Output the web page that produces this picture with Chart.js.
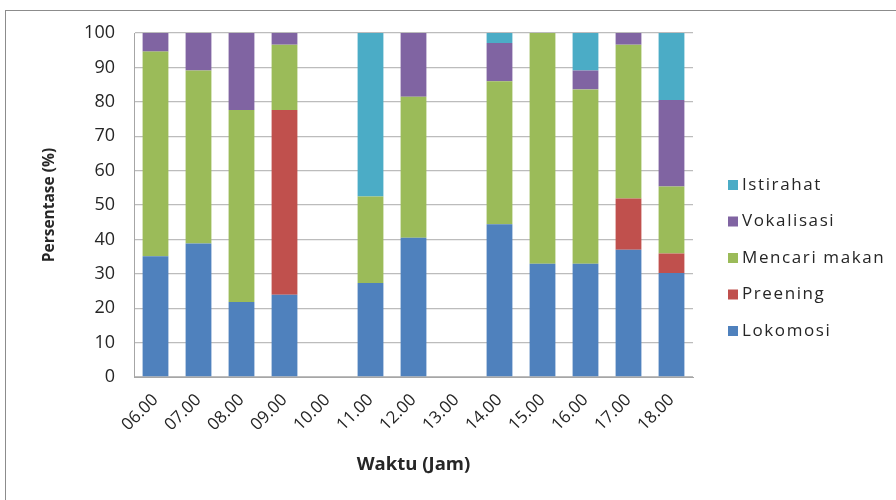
<!DOCTYPE html>
<html>
<head>
<meta charset="utf-8">
<script src="https://cdn.jsdelivr.net/npm/chart.js@4.4.1/dist/chart.umd.min.js"></script>
<style>
  body { margin: 0; background: #fff; }
  #wrap { position: relative; width: 896px; height: 500px; overflow: hidden; }
  #frame { position: absolute; left: 5px; top: 10px; width: 1000px; height: 600px; border: 1px solid #8c8c8c; }
  canvas { position: absolute; left: 0; top: 0; }
</style>
</head>
<body>
<div id="wrap">
  <div id="frame"></div>
  <canvas id="grafik" width="896" height="500"></canvas>
</div>
<script>
// Data aktivitas (persen) per jam pengamatan
const jam = ['06.00', '07.00', '08.00', '09.00', '10.00', '11.00', '12.00', '13.00', '14.00', '15.00', '16.00', '17.00', '18.00'];
const lokomosi = [35.1, 38.8, 21.8, 23.9, null, 27.3, 40.5, null, 44.4, 32.9, 32.9, 37.0, 30.2];
const preening = [0, 0, 0, 53.7, null, 0, 0, null, 0, 0, 0, 14.9, 5.7];
const mencariMakan = [59.5, 50.3, 55.8, 19.0, null, 25.2, 41.0, null, 41.6, 67.1, 50.7, 44.7, 19.5];
const vokalisasi = [5.4, 10.9, 22.4, 3.4, null, 0, 18.5, null, 11.1, 0, 5.5, 3.4, 25.1];
const istirahat = [0, 0, 0, 0, null, 47.5, 0, null, 2.9, 0, 10.9, 0, 19.5];
const yTicks = [0, 10, 20, 30, 40, 50, 60, 70, 80, 90, 100];

const fontUtama = '"Open Sans", "Noto Sans", sans-serif';

// Legenda di sisi kanan (urutan terbalik seperti Excel)
const legendaKanan = {
    id: 'legendaKanan',
    afterDraw(chart) {
        const ctx = chart.ctx;
        const area = chart.chartArea;
        const items = chart.data.datasets.slice().reverse();
        ctx.save();
        ctx.font = '17px ' + fontUtama;
        ctx.letterSpacing = '1.6px';
        ctx.textBaseline = 'middle';
        items.forEach((ds, i) => {
            const y = 185 + i * 36.5;
            ctx.fillStyle = ds.backgroundColor;
            ctx.fillRect(area.right + 35, y - 5, 10, 10);
            ctx.fillStyle = '#262626';
            ctx.fillText(ds.label, area.right + 49, y);
        });
        ctx.restore();
    }
};

new Chart(document.getElementById('grafik'), {
    type: 'bar',
    data: {
        labels: jam,
        datasets: [
            { label: 'Lokomosi', data: lokomosi, backgroundColor: '#4F81BD' },
            { label: 'Preening', data: preening, backgroundColor: '#C0504D' },
            { label: 'Mencari makan', data: mencariMakan, backgroundColor: '#9BBB59' },
            { label: 'Vokalisasi', data: vokalisasi, backgroundColor: '#8064A2' },
            { label: 'Istirahat', data: istirahat, backgroundColor: '#4BACC6' }
        ]
    },
    options: {
        responsive: false,
        animation: false,
        layout: { padding: { left: 40, top: 33, right: 203, bottom: 24 } },
        datasets: { bar: { barPercentage: 0.6, categoryPercentage: 1.0 } },
        plugins: {
            legend: { display: false },
            tooltip: { enabled: false }
        },
        scales: {
            x: {
                stacked: true,
                afterFit(scale) { scale.height = 99; },
                grid: { display: false, drawTicks: false },
                border: { display: true, color: '#a6a6a6', width: 1 },
                ticks: {
                    color: '#262626',
                    font: { family: fontUtama, size: 17 },
                    maxRotation: 45,
                    minRotation: 45,
                    padding: 13,
                    autoSkip: false
                },
                title: {
                    display: true,
                    text: 'Waktu (Jam)',
                    color: '#262626',
                    font: { family: fontUtama, size: 18.5, weight: 'bold' },
                    padding: { top: 0, bottom: 0 }
                }
            },
            y: {
                stacked: true,
                min: 0,
                max: 100,
                afterFit(scale) { scale.width = 94; },
                afterBuildTicks(scale) { scale.ticks = yTicks.map(v => ({ value: v })); },
                grid: { color: '#bcbcbc', lineWidth: 1.3, drawTicks: false },
                border: { display: true, color: '#a6a6a6', width: 1 },
                ticks: {
                    color: '#262626',
                    font: { family: fontUtama, size: 18 },
                    padding: 19
                },
                title: {
                    display: true,
                    text: 'Persentase (%)',
                    color: '#262626',
                    font: { family: fontUtama, size: 15.5, weight: 'bold' },
                    padding: { top: 0, bottom: 0 }
                }
            }
        }
    },
    plugins: [legendaKanan]
});
</script>
</body>
</html>
